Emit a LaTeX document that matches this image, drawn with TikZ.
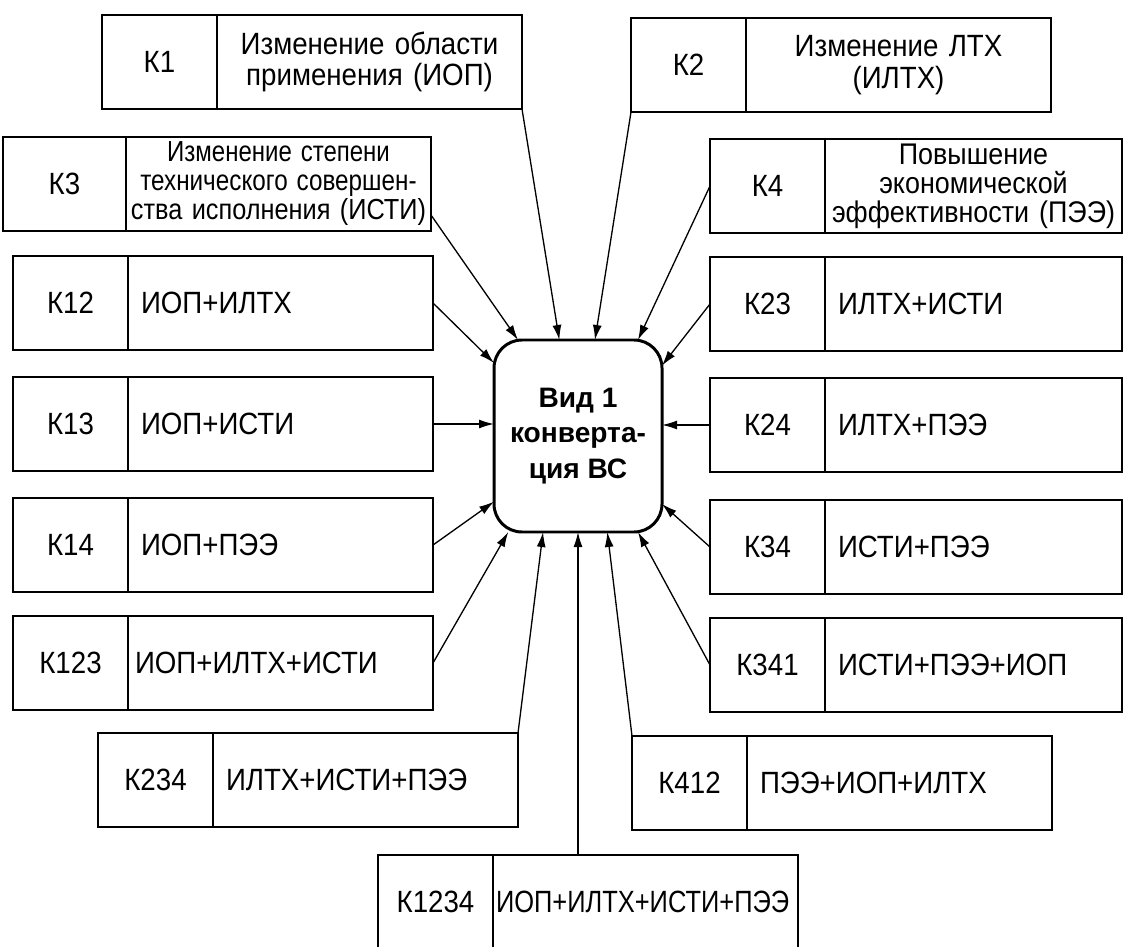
\documentclass[tikz,border=0pt]{standalone}
\usepackage{fontspec}
\setmainfont[FakeStretch=0.9]{Liberation Sans}
\newfontfamily\vidfont{Liberation Sans}
\usepackage{graphicx}
\usetikzlibrary{positioning,arrows.meta,calc}

\begin{document}
\begin{tikzpicture}[x=0.2mm, y=-0.2mm,
    kbox/.style={rectangle, draw, line width=1pt, outer sep=0pt, inner sep=0pt,
                 minimum width=23mm, minimum height=18.8mm,
                 font=\fontsize{17.5}{18}\selectfont},
    txtbox/.style={rectangle, draw, line width=1pt, outer sep=0pt,
                   inner xsep=2.6mm, inner ysep=0pt,
                   minimum width=61mm, minimum height=18.8mm,
                   text width=55.8mm, align=left,
                   font=\fontsize{17.5}{18}\selectfont},
    capbox/.style={txtbox, align=center},
    vidbox/.style={rectangle, draw, line width=1.7pt, rounded corners=5.6mm,
                   outer sep=0pt, minimum width=33.6mm, minimum height=38.4mm,
                   align=center, font=\vidfont\bfseries\fontsize{16}{20}\selectfont},
    arrow/.style={-{Latex[length=3mm,width=1.8mm]}, line width=0.75pt}
]
    \useasboundingbox (0,0) rectangle (1126,947);
    \clip (0,0) rectangle (1126,947);

    % central node
    \node[vidbox] (cv) at (578,436) {Вид 1\\конверта-\\ция ВС};

    % single criteria
    \node[kbox] (k1) at (159.5,62) {К1};
    \node[capbox, right=0pt of k1] (t1) {Изменение области\\применения (ИОП)};
    \node[kbox] (k2) at (688.5,65) {К2};
    \node[capbox, right=0pt of k2] (t2) {Изменение ЛТХ\\(ИЛТХ)};
    \node[kbox, minimum width=24.6mm] (k3) at (64.5,184) {К3};
    \node[capbox, right=0pt of k3, inner xsep=0.5mm, text width=60mm,
          font=\fontsize{16.5}{16.5}\selectfont] (t3)
        {\scalebox{0.92}[1]{Изменение степени}\\\scalebox{0.93}[1]{технического совершен-}\\\scalebox{0.97}[1]{ства исполнения (ИСТИ)}};
    \node[kbox] (k4) at (767.5,186) {К4};
    \node[capbox, right=0pt of k4, minimum width=59.4mm, inner xsep=0.5mm,
          text width=58.4mm, font=\fontsize{17}{16.5}\selectfont] (t4)
        {Повышение\\экономической\\эффективности~(ПЭЭ)};

    % left column
    \node[kbox] (k12) at (70.5,303) {К12};
    \node[txtbox, right=0pt of k12] (t12) {ИОП+ИЛТХ};
    \node[kbox] (k13) at (70.5,424) {К13};
    \node[txtbox, right=0pt of k13] (t13) {ИОП+ИСТИ};
    \node[kbox] (k14) at (70.5,545) {К14};
    \node[txtbox, right=0pt of k14] (t14) {ИОП+ПЭЭ};
    \node[kbox] (k123) at (70.5,663) {К123};
    \node[txtbox, right=0pt of k123, inner xsep=1.4mm, text width=58.2mm] (t123) {ИОП+ИЛТХ+ИСТИ};

    % right column
    \node[kbox] (k23) at (767.5,304) {К23};
    \node[txtbox, right=0pt of k23, minimum width=59.4mm, text width=54.2mm] (t23) {ИЛТХ+ИСТИ};
    \node[kbox] (k24) at (767.5,425) {К24};
    \node[txtbox, right=0pt of k24, minimum width=59.4mm, text width=54.2mm] (t24) {ИЛТХ+ПЭЭ};
    \node[kbox] (k34) at (767.5,547) {К34};
    \node[txtbox, right=0pt of k34, minimum width=59.4mm, text width=54.2mm] (t34) {ИСТИ+ПЭЭ};
    \node[kbox] (k341) at (767.5,665) {К341};
    \node[txtbox, right=0pt of k341, minimum width=59.4mm, text width=54.2mm] (t341) {ИСТИ+ПЭЭ+ИОП};

    % bottom rows
    \node[kbox] (k234) at (155.5,780) {К234};
    \node[txtbox, right=0pt of k234] (t234) {ИЛТХ+ИСТИ+ПЭЭ};
    \node[kbox] (k412) at (689.5,783) {К412};
    \node[txtbox, right=0pt of k412] (t412) {ПЭЭ+ИОП+ИЛТХ};
    \node[kbox] (k1234) at (435.5,902) {К1234};
    \node[txtbox, right=0pt of k1234, inner xsep=0.6mm, text width=59.8mm] (t1234)
        {\scalebox{0.92}[1]{ИОП+ИЛТХ+ИСТИ+ПЭЭ}};

    % arrows into the central node
    \draw[arrow] (t1.south east) -- (cv.101.8);
    \draw[arrow] (k2.south west) -- (cv.80);
    \draw[arrow] ($(t3.south east)!0.17!(t3.north east)$) -- (cv.122.4);
    \draw[arrow] (k4.west) -- (cv.58.4);
    \draw[arrow] (t12.east) -- (cv.139);
    \draw[arrow] (t13.east) -- (t13.east -| cv.west);
    \draw[arrow] (t14.east) -- (cv.218.2);
    \draw[arrow] (t123.east) -- (cv.234.7);
    \draw[arrow] (t234.north east) -- (cv.250.5);
    \draw[arrow] (t1234.north -| cv.south) -- (cv.south);
    \draw[arrow] (k412.north west) -- (cv.287.4);
    \draw[arrow] (k341.west) -- (cv.302.9);
    \draw[arrow] (k34.west) -- (cv.321.4);
    \draw[arrow] (k24.west) -- (k24.west -| cv.east);
    \draw[arrow] (k23.west) -- (cv.40.2);
\end{tikzpicture}
\end{document}
